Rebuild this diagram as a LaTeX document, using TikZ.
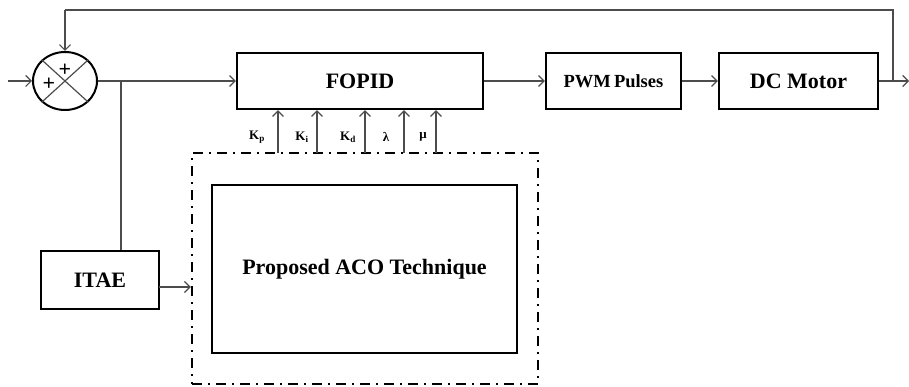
\documentclass[tikz,border=0pt]{standalone}
\usepackage{fontspec}
\setmainfont{Liberation Serif}
\usetikzlibrary{arrows.meta,calc,shapes.geometric}
\begin{document}
\begin{tikzpicture}[x=1pt,y=-1pt,
  blk/.style={draw,line width=2.2pt,inner sep=0pt,font=\fontsize{22}{24}\selectfont\bfseries},
  conn/.style={draw=black!70,line width=1.2pt},
  arr/.style={conn,-{Straight Barb[length=5.5pt,width=11pt,line width=1.2pt]}},
  dashdotbox/.style={draw,line width=2.5pt,dash pattern=on 10pt off 6pt on 2pt off 6pt},
  lbl/.style={font=\fontsize{13}{14}\selectfont\bfseries,inner sep=0pt},
  plus/.style={font=\fontsize{22}{22}\selectfont\bfseries,inner sep=0pt}
]
\useasboundingbox (0,0) rectangle (909,387);

% summing junction
\node[draw,ellipse,line width=2pt,minimum width=64pt,minimum height=58pt,inner sep=0pt] (sum) at (65,81) {};
\draw[black!70,line width=1.2pt] (sum.north west) -- (sum.south east);
\draw[black!70,line width=1.2pt] (sum.north east) -- (sum.south west);
\node[plus] (p1) at (65,70) {+};
\node[plus] (p2) at (49,84) {+};

% blocks
\node[blk,minimum width=246pt,minimum height=56pt] (fopid) at (360,81) {FOPID};
\node[blk,minimum width=135pt,minimum height=56pt,font=\fontsize{18.5}{20}\selectfont\bfseries] (pwm) at (613.5,81) {PWM\,Pulses};
\node[blk,minimum width=159pt,minimum height=56pt] (motor) at (798.5,81) {DC Motor};
\node[blk,minimum width=118pt,minimum height=58pt] (itae) at (100,280) {ITAE};
\node[dashdotbox,minimum width=346pt,minimum height=231pt,inner sep=0pt] (acobox) at (365,268.5) {};
\node[blk,minimum width=305pt,minimum height=168pt] (aco) at (364.5,269) {Proposed ACO Technique};

% coordinates
\coordinate (in) at (8,81);
\coordinate (out) at (909,81);
\coordinate (fbx) at (893,81);
\coordinate (fbtop) at (893,10);
\coordinate (fbleft) at (65,10);
\coordinate (br) at (121,81);
\coordinate (itaeout) at (159,287);

% connectors
\draw[arr] (in) -- (sum.west);
\draw[arr] (sum.east) -- (fopid.west);
\draw[arr] (fopid.east) -- (pwm.west);
\draw[arr] (pwm.east) -- (motor.west);
\draw[arr] (motor.east) -- (out);
\draw[conn] (fbx) -- (fbtop) -- (fbleft);
\draw[arr] (fbleft) -- (sum.north);
\draw[conn] (br) -- (br |- itae.north);
\draw[arr] (itaeout) -- (itaeout -| acobox.west);

% parameter arrows
\foreach \i/\x in {1/278,2/317,3/365,4/404,5/436}{
  \coordinate (k\i) at (\x,153);
  \draw[arr] (k\i) -- (k\i |- fopid.south);
}
\node[lbl] (lkp) at (257,137) {K\textsubscript{p}};
\node[lbl] (lki) at (302,137) {K\textsubscript{i}};
\node[lbl] (lkd) at (348,137) {K\textsubscript{d}};
\node[lbl] (llam) at (386,137) {λ};
\node[lbl] (lmu) at (423,137) {μ};
\end{tikzpicture}
\end{document}
